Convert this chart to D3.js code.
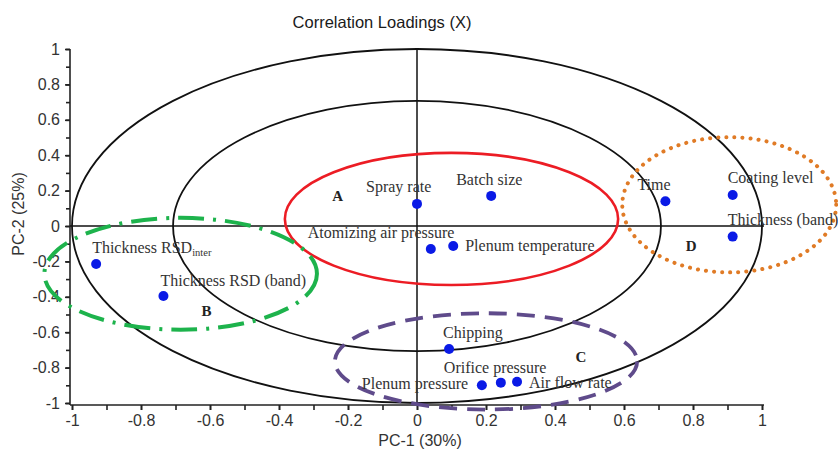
<!DOCTYPE html>
<html>
<head>
<meta charset="utf-8">
<script src="https://cdn.jsdelivr.net/npm/d3@7"></script>
<style>
  body { margin: 0; background: #fff; }
  svg { display: block; }
</style>
</head>
<body>
<div id="chart"></div>
<script>
document.addEventListener('DOMContentLoaded', function() {

    // loadings (PC-1, PC-2)
    const variables = ['Thickness RSD', 'Thickness RSD (band)', 'Spray rate', 'Batch size',
        'Atomizing air pressure', 'Plenum temperature', 'Time', 'Coating level', 'Thickness (band)',
        'Chipping', 'Plenum pressure', 'Orifice pressure', 'Air flow rate'];
    const pc1 = [-0.93, -0.735, 0.0, 0.215, 0.04, 0.105, 0.72, 0.915, 0.915, 0.093, 0.188, 0.243, 0.29];
    const pc2 = [-0.215, -0.395, 0.125, 0.17, -0.13, -0.113, 0.14, 0.175, -0.06, -0.695, -0.9, -0.885, -0.88];

    // label offsets in px from each point (start of text, baseline)
    const labelDx = [-4, -3, -51, -35, -123, 12, -28, -5, -5, -6, -120, -57, 12];
    const labelDy = [-11, -10, -12, -11, -11, 5, -11, -12, -12, -11, 4, -10, 6];

    // correlation circles (r^2 = 50% and 100%)
    const circleRadii = [1, Math.SQRT1_2];

    // group ellipses: centre and radii in data units
    const groupNames = ['A', 'B', 'C', 'D'];
    const groupCx = [0.10, -0.685, 0.20, 0.905];
    const groupCy = [0.04, -0.27, -0.765, 0.12];
    const groupRx = [0.483, 0.395, 0.438, 0.31];
    const groupRy = [0.373, 0.316, 0.272, 0.382];
    const groupLabelX = [-0.23, -0.61, 0.475, 0.795];
    const groupLabelY = [0.17, -0.48, -0.74, -0.11];

    const xTicks = [-1, -0.8, -0.6, -0.4, -0.2, 0, 0.2, 0.4, 0.6, 0.8, 1];
    const yTicks = [-1, -0.8, -0.6, -0.4, -0.2, 0, 0.2, 0.4, 0.6, 0.8, 1];
    const minorTicks = d3.range(-10, 11).map(d => d / 10);

    const width = 838, height = 450;

    const svg = d3.select('#chart')
        .append('svg')
        .attr('width', width)
        .attr('height', height);

    const x = d3.scaleLinear().domain([-1, 1]).range([72, 762]);
    const y = d3.scaleLinear().domain([-1, 1]).range([403, 49]);

    const groupStyle = [
        { color: '#ec1c24', width: 2.6, dash: null, cap: 'butt' },
        { color: '#1db34c', width: 4, dash: '26,9,3,9', cap: 'butt' },
        { color: '#5f4b8b', width: 3.8, dash: '18,10', cap: 'butt' },
        { color: '#e07b26', width: 4, dash: '0.1,8', cap: 'round' }
    ];

    const sans = 'Liberation Sans, Arial, sans-serif';
    const serif = 'Liberation Serif, Times New Roman, serif';

    // title
    svg.append('text')
        .attr('x', 382)
        .attr('y', 28)
        .attr('text-anchor', 'middle')
        .style('font-family', sans)
        .style('font-size', '16.5px')
        .attr('fill', '#1a1a1a')
        .text('Correlation Loadings (X)');

    // axes, plain hyphen for negatives
    const fmt = d => String(+d.toFixed(1));

    const xAxis = svg.append('g')
        .attr('transform', 'translate(0,405)')
        .call(d3.axisBottom(x).tickValues(minorTicks).tickSize(5).tickFormat(''));
    svg.append('g')
        .attr('transform', 'translate(0,405)')
        .call(d3.axisBottom(x).tickValues(xTicks).tickSize(5).tickPadding(5).tickFormat(fmt))
        .call(g => g.select('.domain').remove());

    const yAxis = svg.append('g')
        .attr('transform', 'translate(70,0)')
        .call(d3.axisLeft(y).tickValues(minorTicks).tickSize(4).tickFormat(''));
    svg.append('g')
        .attr('transform', 'translate(70,0)')
        .call(d3.axisLeft(y).tickValues(yTicks).tickSize(5).tickPadding(5).tickFormat(fmt))
        .call(g => g.select('.domain').remove());

    svg.selectAll('.tick text')
        .style('font-family', sans)
        .style('font-size', '16px')
        .attr('fill', '#333');
    svg.selectAll('.domain, .tick line')
        .attr('stroke', '#222')
        .attr('stroke-width', 1.6);
    xAxis.select('.domain').attr('d', 'M70,0H764');
    yAxis.select('.domain').attr('d', 'M0,49V405');

    svg.append('text')
        .attr('x', 420)
        .attr('y', 446)
        .attr('text-anchor', 'middle')
        .style('font-family', sans)
        .style('font-size', '16px')
        .attr('fill', '#333')
        .text('PC-1 (30%)');

    svg.append('text')
        .attr('transform', 'translate(24,214) rotate(-90)')
        .attr('text-anchor', 'middle')
        .style('font-family', sans)
        .style('font-size', '16px')
        .attr('fill', '#333')
        .text('PC-2 (25%)');

    // zero lines
    svg.append('line')
        .attr('x1', 70).attr('x2', 764)
        .attr('y1', y(0)).attr('y2', y(0))
        .attr('stroke', '#111').attr('stroke-width', 1.5);
    svg.append('line')
        .attr('x1', x(0)).attr('x2', x(0))
        .attr('y1', 49).attr('y2', 405)
        .attr('stroke', '#111').attr('stroke-width', 1.5);

    // correlation circles
    svg.selectAll('.circle')
        .data(circleRadii)
        .enter()
        .append('ellipse')
        .attr('class', 'circle')
        .attr('cx', x(0))
        .attr('cy', y(0))
        .attr('rx', d => x(d) - x(0))
        .attr('ry', d => y(0) - y(d))
        .attr('fill', 'none')
        .attr('stroke', '#111')
        .attr('stroke-width', 1.8);

    // group ellipses
    svg.selectAll('.group')
        .data(groupNames)
        .enter()
        .append('ellipse')
        .attr('class', 'group')
        .attr('cx', (d, i) => x(groupCx[i]))
        .attr('cy', (d, i) => y(groupCy[i]))
        .attr('rx', (d, i) => x(groupRx[i]) - x(0))
        .attr('ry', (d, i) => y(0) - y(groupRy[i]))
        .attr('fill', 'none')
        .attr('stroke', (d, i) => groupStyle[i].color)
        .attr('stroke-width', (d, i) => groupStyle[i].width)
        .attr('stroke-dasharray', (d, i) => groupStyle[i].dash)
        .attr('stroke-linecap', (d, i) => groupStyle[i].cap);

    svg.selectAll('.group-label')
        .data(groupNames)
        .enter()
        .append('text')
        .attr('class', 'group-label')
        .attr('x', (d, i) => x(groupLabelX[i]))
        .attr('y', (d, i) => y(groupLabelY[i]))
        .attr('text-anchor', 'middle')
        .attr('dy', '0.35em')
        .style('font-family', serif)
        .style('font-size', '15px')
        .style('font-weight', 'bold')
        .attr('fill', '#222')
        .text(d => d);

    // points
    svg.selectAll('.pt')
        .data(variables)
        .enter()
        .append('circle')
        .attr('class', 'pt')
        .attr('cx', (d, i) => x(pc1[i]))
        .attr('cy', (d, i) => y(pc2[i]))
        .attr('r', 5)
        .attr('fill', '#0a1ae6');

    const labels = svg.selectAll('.lbl')
        .data(variables)
        .enter()
        .append('text')
        .attr('class', 'lbl')
        .attr('x', (d, i) => x(pc1[i]) + labelDx[i])
        .attr('y', (d, i) => y(pc2[i]) + labelDy[i])
        .style('font-family', serif)
        .style('font-size', '16px')
        .attr('fill', '#333')
        .text(d => d);

    // subscript for the first label
    labels.filter((d, i) => i === 0)
        .append('tspan')
        .attr('dy', 3)
        .style('font-size', '10.5px')
        .text('inter');
});
</script>
</body>
</html>
